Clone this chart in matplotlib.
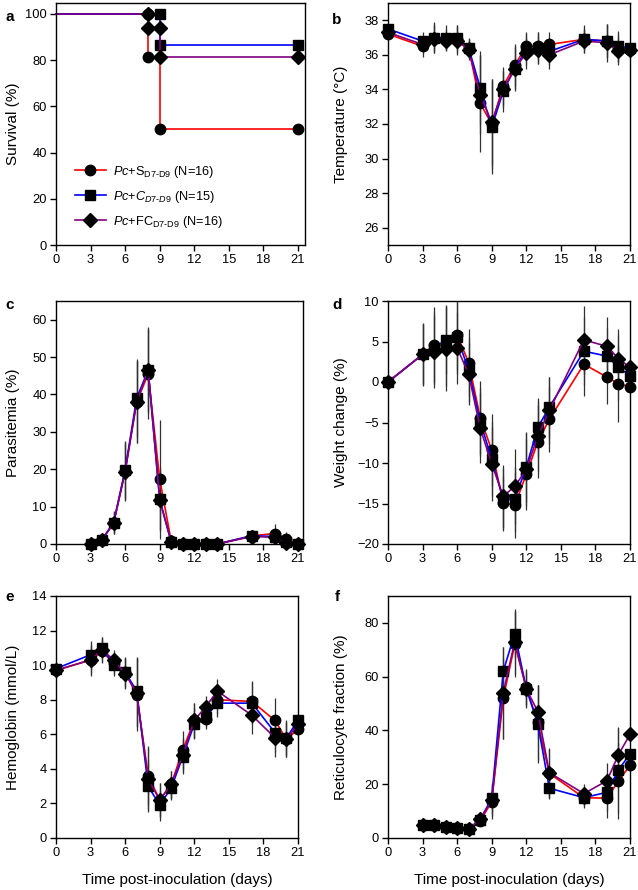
import matplotlib
import numpy as np

matplotlib.use('Agg')
import matplotlib.pyplot as plt

plt.rcParams['font.family'] = ['Liberation Sans', 'DejaVu Sans']
plt.rcParams['mathtext.fontset'] = 'custom'
plt.rcParams['mathtext.rm'] = 'Liberation Sans'
plt.rcParams['mathtext.it'] = 'Liberation Sans:italic'
plt.rcParams['mathtext.bf'] = 'Liberation Sans:bold'

# group labels
labels = [r'$\it{Pc}$+S$_{\text{D7-D9}}$ (N=16)',
          r'$\it{Pc}$+$\it{C}_{\it{D7}\text{-}\it{D9}}$ (N=15)',
          r'$\it{Pc}$+FC$_{\text{D7-D9}}$ (N=16)']
colors = ['#ff0000', '#0000ff', '#800080']
markers = ['o', 's', 'D']

# a: survival (Kaplan-Meier steps)
surv_days_s = [0, 8, 8, 9, 9, 21]
surv_s = [100, 100, 81.25, 81.25, 50, 50]
surv_days_c = [0, 9, 9, 21]
surv_c = [100, 100, 86.67, 86.67]
surv_days_fc = [0, 8, 8, 9, 9, 21]
surv_fc = [100, 100, 93.75, 93.75, 81.25, 81.25]

days = [0, 3, 4, 5, 6, 7, 8, 9, 10, 11, 12, 13, 14, 17, 19, 20, 21]
days_no0 = days[1:]

# b: temperature
temp_s = [37.2, 36.5, 37.0, 36.9, 36.9, 36.4, 33.2, 32.0, 34.2, 35.4, 36.5, 36.5, 36.6, 36.9, 36.8, 36.4, 36.3]
temp_c = [37.5, 36.8, 37.0, 37.0, 37.0, 36.4, 34.1, 31.8, 33.9, 35.2, 36.3, 36.4, 36.2, 36.9, 36.8, 36.5, 36.4]
temp_fc = [37.3, 36.6, 36.9, 36.8, 36.8, 36.3, 33.7, 32.1, 34.0, 35.2, 36.1, 36.3, 36.0, 36.8, 36.7, 36.2, 36.3]
temp_sd_s = [0.2, 0.6, 0.9, 0.6, 0.8, 0.5, 2.8, 2.6, 1.1, 1.2, 0.8, 0.8, 0.7, 0.6, 0.9, 0.8, 0.2]
temp_sd_c = [0.2, 0.5, 0.8, 0.7, 0.7, 0.6, 2.1, 2.7, 1.2, 1.3, 0.9, 0.9, 0.8, 0.8, 1.0, 0.9, 0.2]
temp_sd_fc = [0.2, 0.5, 0.8, 0.6, 0.8, 0.6, 2.3, 2.5, 1.0, 1.2, 0.9, 0.8, 0.8, 0.7, 1.1, 0.8, 0.2]

# c: parasitemia
para_s = [0.1, 1.2, 5.7, 19.5, 38.0, 45.5, 17.3, 0.7, 0, 0, 0, 0, 2.2, 2.8, 1.3, 0]
para_c = [0.1, 1.2, 5.7, 19.8, 39.0, 46.5, 12.0, 0.5, 0, 0, 0, 0, 2.2, 2.0, 0.5, 0]
para_fc = [0.1, 1.2, 5.5, 19.3, 38.0, 46.5, 11.7, 0.5, 0, 0, 0, 0, 2.0, 1.8, 0.3, 0]
para_sd_s = [0.1, 0.5, 3.0, 8.0, 11.0, 12.0, 16.0, 0.5, 0, 0, 0, 0, 1.0, 2.5, 2.0, 0]
para_sd_c = [0.1, 0.5, 2.8, 7.5, 10.5, 11.0, 8.5, 0.4, 0, 0, 0, 0, 1.0, 2.0, 1.5, 0]
para_sd_fc = [0.1, 0.5, 2.8, 7.5, 11.0, 11.5, 8.0, 0.4, 0, 0, 0, 0, 1.0, 1.8, 1.2, 0]

# d: weight change
wt_s = [0, 3.4, 4.6, 4.5, 5.8, 2.4, -4.4, -8.4, -14.9, -15.2, -11.4, -7.4, -4.6, 2.2, 0.6, -0.2, -0.6]
wt_c = [0, 3.4, 4.2, 5.2, 5.5, 1.5, -4.9, -9.5, -14.5, -14.5, -10.5, -5.6, -3.1, 3.8, 3.2, 1.8, 0.8]
wt_fc = [0, 3.4, 3.7, 4.1, 4.2, 1.0, -5.7, -10.1, -14.1, -12.9, -10.8, -6.7, -3.5, 5.2, 4.4, 2.9, 1.8]
wt_sd_s = [0, 3.9, 4.6, 5.0, 4.3, 4.1, 4.5, 4.4, 3.3, 4.1, 4.4, 4.5, 4.0, 3.9, 3.3, 4.7, 0.3]
wt_sd_c = [0, 3.8, 4.4, 4.2, 4.5, 4.0, 4.2, 4.6, 3.9, 4.0, 4.3, 3.6, 3.7, 4.2, 3.5, 4.0, 0.3]
wt_sd_fc = [0, 3.7, 4.5, 5.2, 4.4, 3.8, 4.3, 4.6, 3.8, 4.6, 4.5, 4.3, 4.1, 4.2, 3.6, 3.6, 0.3]

# e: hemoglobin
hb_s = [9.7, 10.3, 10.8, 10.1, 9.6, 8.3, 3.6, 2.2, 3.1, 5.1, 6.8, 6.9, 8.0, 7.9, 6.8, 5.7, 6.3]
hb_c = [9.8, 10.6, 11.0, 10.0, 9.6, 8.5, 3.0, 1.9, 2.9, 4.7, 6.6, 7.0, 7.8, 7.8, 6.1, 5.8, 6.8]
hb_fc = [9.7, 10.3, 10.9, 10.3, 9.5, 8.4, 3.4, 2.2, 3.1, 4.8, 6.8, 7.6, 8.5, 7.1, 5.8, 5.7, 6.6]
hb_sd_s = [0.2, 0.9, 0.7, 0.6, 0.9, 2.1, 1.7, 1.0, 0.8, 1.1, 1.0, 0.6, 0.8, 1.2, 1.3, 1.0, 0.4]
hb_sd_c = [0.2, 0.8, 0.6, 0.6, 0.8, 2.0, 1.5, 0.9, 0.7, 1.0, 0.9, 0.6, 0.8, 1.2, 1.1, 1.0, 0.4]
hb_sd_fc = [0.2, 0.8, 0.7, 0.6, 0.9, 2.0, 1.8, 1.0, 0.8, 1.0, 1.0, 0.6, 0.7, 1.1, 1.1, 1.0, 0.4]

# f: reticulocyte fraction
ret_s = [4.8, 5.0, 4.2, 3.7, 3.3, 6.3, 13.5, 52, 72, 56, 43, 24, 15, 14.8, 21.2, 27]
ret_c = [4.8, 5.0, 4.2, 3.7, 3.3, 6.8, 14.8, 62, 76, 55.5, 42.5, 18.5, 15, 17, 25.3, 31.3]
ret_fc = [4.8, 5.0, 4.2, 3.7, 3.3, 7.0, 14.0, 54, 73, 55.5, 47, 24.3, 16.5, 21.3, 31, 38.5]
ret_sd_s = [0.5, 0.5, 0.5, 0.5, 0.5, 1.5, 6.5, 15, 12, 7, 14, 9, 4, 7.5, 14, 1]
ret_sd_c = [0.5, 0.5, 0.5, 0.5, 0.5, 1.5, 5.5, 9, 8.5, 6, 14.5, 4, 3, 7, 16, 1]
ret_sd_fc = [0.5, 0.5, 0.5, 0.5, 0.5, 1.5, 6, 17, 12, 7, 10, 9, 3.5, 6.5, 10, 1]

W, H = 638, 890
fig = plt.figure(figsize=(W / 100, H / 100), dpi=100)


def make_axes(x0, x1, y0, y1):
    # pixel box -> figure fraction
    return fig.add_axes([x0 / W, 1 - y1 / H, (x1 - x0) / W, (y1 - y0) / H])


def style_axes(ax, xmax, ylim, yticks):
    ax.set_xlim(0, xmax)
    ax.set_ylim(*ylim)
    ax.set_xticks(range(0, 22, 3))
    ax.set_yticks(yticks)
    ax.tick_params(direction='out', length=4, width=1, labelsize=9.3, pad=2.5)
    for sp in ax.spines.values():
        sp.set_linewidth(1)


def plot_series(ax, x, ys, sds):
    for y, sd in zip(ys, sds):
        ax.errorbar(x, y, yerr=sd, fmt='none', ecolor='#303030', elinewidth=0.9, capsize=0, zorder=1)
    for y, c, m, lab in zip(ys, colors, markers, labels):
        ax.plot(x, y, color=c, lw=1.2, marker=m, markersize=7.5 if m != 'D' else 7.0,
                markerfacecolor='black', markeredgecolor='black', label=lab, zorder=2)


lab_kw = dict(fontsize=11)
left_px = 11.524  # px per day, left column

# a
ax_a = make_axes(56, 56 + 21.6 * left_px, 3, 245)
ax_a.plot(surv_days_s, surv_s, color=colors[0], lw=1.2, marker='o', markersize=7.5,
          markerfacecolor='black', markeredgecolor='black', markevery=[1, 2, 4, 5], label=labels[0])
ax_a.plot(surv_days_c, surv_c, color=colors[1], lw=1.2, marker='s', markersize=7.5,
          markerfacecolor='black', markeredgecolor='black', markevery=[1, 2, 3], label=labels[1])
ax_a.plot(surv_days_fc, surv_fc, color=colors[2], lw=1.2, marker='D', markersize=7.0,
          markerfacecolor='black', markeredgecolor='black', markevery=[1, 2, 3, 4, 5], label=labels[2])
style_axes(ax_a, 21.6, (0, 104.7), range(0, 101, 20))
ax_a.set_ylabel('Survival (%)', **lab_kw)
ax_a.legend(loc='center left', bbox_to_anchor=(0.076, 0.20), frameon=False, fontsize=9.2,
            borderpad=0, borderaxespad=0, handlelength=2.4, handletextpad=0.6, labelspacing=0.7)

# b
ax_b = make_axes(388, 630, 3, 245)
plot_series(ax_b, days, [temp_s, temp_c, temp_fc], [temp_sd_s, temp_sd_c, temp_sd_fc])
style_axes(ax_b, 21, (25, 39), range(26, 39, 2))
ax_b.set_ylabel('Temperature (\u00b0C)', **lab_kw)

# c
ax_c = make_axes(56, 56 + 21.4 * left_px, 301, 544)
plot_series(ax_c, days_no0, [para_s, para_c, para_fc], [para_sd_s, para_sd_c, para_sd_fc])
style_axes(ax_c, 21.4, (0, 65), range(0, 61, 10))
ax_c.set_ylabel('Parasitemia (%)', **lab_kw)

# d
ax_d = make_axes(388, 630, 301, 544)
plot_series(ax_d, days, [wt_s, wt_c, wt_fc], [wt_sd_s, wt_sd_c, wt_sd_fc])
style_axes(ax_d, 21, (-20, 10), range(-20, 11, 5))
ax_d.set_ylabel('Weight change (%)', **lab_kw)

# e
ax_e = make_axes(56, 298, 596, 838)
plot_series(ax_e, days, [hb_s, hb_c, hb_fc], [hb_sd_s, hb_sd_c, hb_sd_fc])
style_axes(ax_e, 21, (0, 14), range(0, 15, 2))
ax_e.set_ylabel('Hemoglobin (mmol/L)', **lab_kw)
ax_e.set_xlabel('Time post-inoculation (days)', **lab_kw)

# f
ax_f = make_axes(388, 630, 596, 838)
plot_series(ax_f, days_no0, [ret_s, ret_c, ret_fc], [ret_sd_s, ret_sd_c, ret_sd_fc])
style_axes(ax_f, 21, (0, 90), range(0, 81, 20))
ax_f.set_ylabel('Reticulocyte fraction (%)', **lab_kw)
ax_f.set_xlabel('Time post-inoculation (days)', **lab_kw)

for ax in [ax_a, ax_b, ax_c, ax_d, ax_e, ax_f]:
    for ln in ax.lines:
        ln.set_clip_on(False)

# y label positions (figure pixels, label centre)
for ax, xp, box_l, box_w in [(ax_a, 13, 56, 21.6 * left_px), (ax_c, 13, 56, 21.4 * left_px),
                             (ax_e, 13, 56, 242), (ax_b, 341, 388, 242),
                             (ax_d, 341, 388, 242), (ax_f, 341, 388, 242)]:
    ax.yaxis.set_label_coords((xp - box_l) / box_w, 0.5)
    ax.yaxis.label.set_va('center')
for ax in [ax_e, ax_f]:
    ax.xaxis.set_label_coords(0.5, -(880 - 838) / 242)
    ax.xaxis.label.set_va('center')

# panel letters
for letter, xp, yp in [('a', 10, 17), ('b', 337, 20), ('c', 10, 305),
                       ('d', 337, 305), ('e', 10, 597), ('f', 337, 597)]:
    fig.text(xp / W, 1 - yp / H, letter, fontsize=11, fontweight='bold', ha='center', va='center')

fig.savefig('out.png', dpi=100)
